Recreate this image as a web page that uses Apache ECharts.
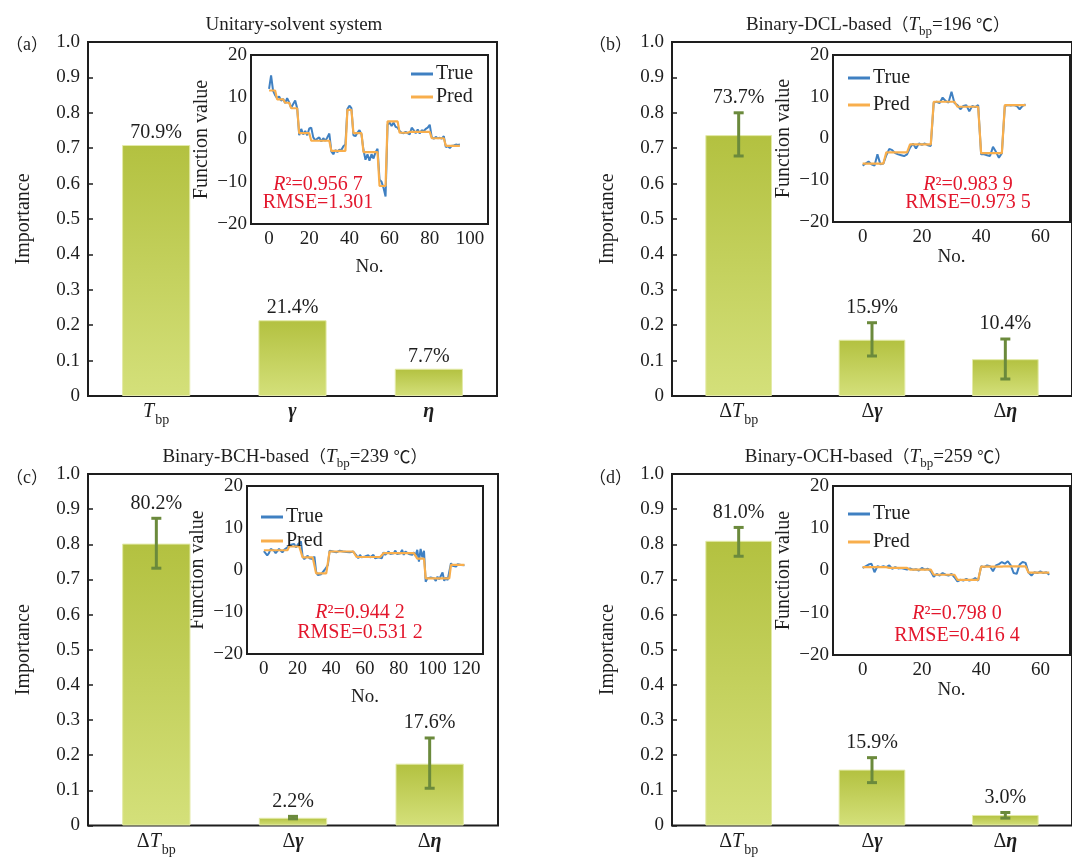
<!DOCTYPE html>
<html>
<head>
<meta charset="utf-8">
<script src="https://cdn.jsdelivr.net/npm/echarts@6/dist/echarts.min.js"></script>
<style>
  html, body { margin: 0; padding: 0; background: #fff; }
  #chart { width: 1072px; height: 857px; }
</style>
</head>
<body>
<div id="chart"></div>
<script>
// ---------- data ----------
const featuresUnitary = ['Tbp', 'γ', 'η'];
const featuresBinary = ['ΔTbp', 'Δγ', 'Δη'];

const importanceA = [0.709, 0.214, 0.077];
const importanceB = [0.737, 0.159, 0.104];
const importanceC = [0.802, 0.022, 0.176];
const importanceD = [0.810, 0.159, 0.030];

const errLowB = [0.678, 0.113, 0.048];
const errHighB = [0.800, 0.207, 0.161];
const errLowC = [0.732, 0.019, 0.106];
const errHighC = [0.874, 0.026, 0.249];
const errLowD = [0.766, 0.122, 0.021];
const errHighD = [0.848, 0.193, 0.037];

const panelTags = ['a', 'b', 'c', 'd'];
const panelNames = ['Unitary-solvent system', 'Binary-DCL-based', 'Binary-BCH-based', 'Binary-OCH-based'];
const boilingPoints = [null, 196, 239, 259];
const r2Values = ['0.956 7', '0.983 9', '0.944 2', '0.798 0'];
const rmseValues = ['1.301', '0.973 5', '0.531 2', '0.416 4'];

const sampleTicksA = [0, 20, 40, 60, 80, 100];
const sampleTicksB = [0, 20, 40, 60];
const sampleTicksC = [0, 20, 40, 60, 80, 100, 120];
const sampleTicksD = [0, 20, 40, 60];

const trueA = [12, 15.2, 11.5, 10.5, 9.8, 10.2, 9.2, 9.6, 8.6, 9.8,
  8.8, 7.5, 8.4, 9.2, 7.4, 1.0, 2.5, 1.2, 2.0, 1.0,
  2.6, 2.8, 0.5, -0.2, 0.2, 0.5, -0.5, 0.3, -0.3, 0.5,
  1.4, -2.8, -3.5, -2.5, -3.0, -2.4, -2.5, -1.6, -1.2, 7.2,
  8.0, 7.4, 1.0, 0.8, 1.6, 2.2, 1.2, -2.5, -4.8, -3.5,
  -5.0, -3.5, -4.5, -3.0, -2.2, -9.5, -10.0, -11.5, -13.5, 3.5,
  4.0, 3.2, 4.0, 3.0, 2.8, 2.0, 1.6, 1.5, 1.8, 1.5,
  1.2, 2.8, 2.2, 1.5, 2.4, 1.4, 2.2, 2.0, 2.5, 2.8,
  3.5, 0.5, 0.2, 0.6, 0.3, 0.4, 0.2, 0.8, -1.8, -1.6,
  -2.0, -1.5, -1.4, -1.2, -1.3, -1.2];
const predA = [11.6, 11.6, 11.6, 11.6, 9.5, 9.5, 9.5, 9.5, 8.7, 8.7,
  8.7, 7.4, 7.4, 7.4, 7.4, 1.5, 1.5, 1.5, 1.5, 1.5,
  1.5, -0.3, -0.3, -0.3, -0.3, -0.3, -0.3, -0.3, -0.3, -0.3,
  -0.3, -2.7, -2.7, -2.7, -2.7, -2.7, -2.7, -2.7, -2.7, 7.0,
  7.0, 7.0, 1.5, 1.5, 1.5, 1.5, 1.5, -3.0, -3.0, -3.0,
  -3.0, -3.0, -3.0, -3.0, -3.0, -11.0, -11.0, -11.0, -11.0, 4.3,
  4.3, 4.3, 4.3, 4.3, 4.3, 1.6, 1.6, 1.6, 1.6, 1.6,
  1.8, 1.8, 1.8, 1.8, 1.8, 1.8, 1.8, 1.8, 1.8, 1.8,
  1.8, 0.3, 0.3, 0.3, 0.3, 0.3, 0.3, 0.3, -1.5, -1.5,
  -1.5, -1.5, -1.5, -1.5, -1.5, -1.5];

const trueB = [-6.5, -6.0, -5.5, -6.2, -6.5, -3.8, -6.2, -6.0, -4.0, -2.5,
  -2.8, -3.5, -3.8, -4.0, -4.2, -3.8, -2.2, -1.2, -2.4, -1.2,
  -1.5, -1.2, -1.6, -1.8, 8.6, 8.8, 8.5, 9.8, 9.0, 8.6,
  11.2, 8.5, 8.0, 7.0, 7.8, 8.0, 6.5, 7.8, 7.5, 8.0,
  -3.8, -3.8, -4.0, -4.2, -2.0, -3.2, -4.6, -3.5, 7.8, 8.0,
  7.9, 8.0, 7.8, 7.0, 7.8, 8.2];
const predB = [-6.0, -6.0, -6.0, -6.0, -6.0, -6.0, -6.0, -6.0, -3.3, -3.3,
  -3.3, -3.3, -3.3, -3.3, -3.3, -3.3, -1.4, -1.4, -1.4, -1.4,
  -1.4, -1.4, -1.4, -1.4, 8.8, 8.8, 8.8, 8.8, 8.8, 8.8,
  8.8, 8.8, 7.6, 7.6, 7.6, 7.6, 7.6, 7.6, 7.6, 7.6,
  -3.5, -3.5, -3.5, -3.5, -3.5, -3.5, -3.5, -3.5, 8.0, 8.0,
  8.0, 8.0, 8.0, 8.0, 8.0, 8.0];

const trueC = [4.5, 4.8, 3.5, 4.0, 5.0, 5.2, 4.6, 4.0, 4.4, 5.0,
  4.6, 4.2, 4.8, 5.0, 5.4, 5.5, 6.0, 5.8, 6.2, 5.4,
  6.0, 5.6, 6.8, 3.2, 2.6, 3.0, 3.4, 2.8, 3.0, 2.6,
  3.2, -0.4, -1.2, -1.6, -1.0, -0.6, 0.0, 0.6, 1.2, 4.6,
  5.0, 4.4, 4.8, 4.2, 4.0, 4.6, 4.2, 4.4, 4.0, 4.3,
  4.6, 4.2, 4.0, 4.4, 4.1, 3.4, 2.8, 3.6, 3.0, 3.4,
  3.2, 2.9, 3.5, 3.0, 3.2, 3.6, 2.8, 2.6, 3.0, 3.2,
  2.8, 4.2, 3.6, 4.0, 4.4, 3.8, 4.2, 4.0, 4.6, 3.8,
  4.2, 4.0, 4.8, 3.6, 4.4, 4.0, 3.8, 4.2, 3.6, 4.2,
  3.4, 4.8, 2.0, 5.0, 3.0, 4.6, -2.8, -2.0, -2.4, -1.8,
  -2.2, -2.0, -2.6, -1.6, -2.2, -2.0, -0.6, -2.6, -1.8, -2.4,
  -2.0, 1.6, 1.0, 1.2, 0.8, 1.4, 1.0, 1.2, 1.0, 1.1];
const predC = [4.7, 4.7, 4.7, 4.7, 4.7, 4.7, 4.7, 4.7, 4.7, 4.7,
  4.7, 4.7, 4.7, 4.7, 4.7, 5.6, 5.6, 5.6, 5.6, 5.6,
  5.6, 5.6, 5.6, 3.0, 3.0, 3.0, 3.0, 3.0, 3.0, 3.0,
  3.0, -0.8, -0.8, -0.8, -0.8, -0.8, -0.8, -0.8, -0.8, 4.4,
  4.4, 4.4, 4.4, 4.4, 4.4, 4.4, 4.4, 4.4, 4.4, 4.4,
  4.4, 4.4, 4.4, 4.4, 4.4, 3.1, 3.1, 3.1, 3.1, 3.1,
  3.1, 3.1, 3.1, 3.1, 3.1, 3.1, 3.1, 3.1, 3.1, 3.1,
  3.1, 4.0, 4.0, 4.0, 4.0, 4.0, 4.0, 4.0, 4.0, 4.0,
  4.0, 4.0, 4.0, 4.0, 4.0, 4.0, 4.0, 4.0, 4.0, 4.0,
  4.0, 2.7, 2.7, 2.7, 2.7, 2.7, -2.0, -2.0, -2.0, -2.0,
  -2.0, -2.0, -2.0, -2.0, -2.0, -2.0, -2.0, -2.0, -2.0, -2.0,
  -2.0, 1.2, 1.2, 1.2, 1.2, 1.2, 1.2, 1.2, 1.2, 1.2];

const trueD = [0.6, 1.0, 1.4, 1.6, -0.4, 1.0, 0.8, 1.0, 0.8, 1.2,
  0.4, 0.8, 0.5, 0.6, 0.4, 0.2, 0.5, 0.2, 0.3, 0.0,
  0.6, 0.2, 0.4, -0.2, -1.5, -0.8, -1.2, -0.6, -1.0, -1.2,
  -0.8, -1.6, -2.6, -2.2, -2.4, -2.0, -2.4, -2.2, -1.8, -2.4,
  1.0, 0.8, 1.2, 1.0, -0.2, 1.2, 1.5, 2.0, 1.6, 2.2,
  1.2, -0.6, -0.8, 1.4, 2.0, 1.8, -0.5, -1.2, -0.4, -0.6,
  -0.2, -0.6, -0.4, -1.0];
const predD = [0.8, 0.8, 0.8, 0.8, 0.8, 0.8, 0.8, 0.8, 0.8, 0.6,
  0.6, 0.6, 0.6, 0.6, 0.6, 0.6, 0.2, 0.2, 0.2, 0.2,
  0.2, 0.2, 0.2, 0.2, -1.0, -1.0, -1.0, -1.0, -1.0, -1.0,
  -1.0, -1.0, -2.2, -2.2, -2.2, -2.2, -2.2, -2.2, -2.2, -2.2,
  0.9, 0.9, 0.9, 0.9, 0.9, 0.9, 0.9, 0.9, 1.0, 1.0,
  1.0, 1.0, 1.0, 1.0, 1.0, 1.0, -0.5, -0.5, -0.5, -0.5,
  -0.5, -0.5, -0.5, -0.5];

// ---------- styles ----------
const SERIF = "'Liberation Serif', 'DejaVu Serif', 'Times New Roman', serif";
const CJK = "'Noto Sans CJK SC', 'Liberation Serif', serif";
const INK = '#1e1e1e';
const BLUE = '#3f80c2';
const ORANGE = '#f8ae4c';
const RED = '#e3172d';
const ERR = '#6b8a3c';
const BAR_FILL = new echarts.graphic.LinearGradient(0, 0, 0, 1, [
  { offset: 0, color: '#b3c140' },
  { offset: 1, color: '#d4e07a' }
]);

const symbolRich = {
  it: { fontFamily: SERIF, fontStyle: 'italic', fontSize: 20, color: INK, lineHeight: 24 },
  up: { fontFamily: SERIF, fontSize: 20, color: INK, lineHeight: 24 },
  gk: { fontFamily: SERIF, fontStyle: 'italic', fontWeight: 'bold', fontSize: 20, color: INK, lineHeight: 24 },
  sub: { fontFamily: SERIF, fontSize: 14, color: INK, lineHeight: 14, padding: [17, 0, 0, 1] }
};
function featureLabel(name) {
  const head = name.startsWith('Δ') ? '{up|Δ}' : '';
  const rest = name.replace('Δ', '');
  if (rest === 'Tbp') return head + '{it|T}{sub|bp}';
  return head + '{gk|' + rest + '}';
}
const pct = v => (v * 100).toFixed(1) + '%';
const minus = v => String(v).replace('-', '−');

// ---------- layout ----------
const mainBoxes = [
  { left: 88, top: 42, width: 409, height: 354 },
  { left: 672, top: 42, width: 409, height: 354 },
  { left: 88, top: 474, width: 410, height: 355 },
  { left: 672, top: 474, width: 409, height: 355 }
];
const insetBoxes = [
  { left: 251, top: 55, width: 237, height: 169 },
  { left: 833, top: 55, width: 237, height: 167 },
  { left: 247, top: 486, width: 236, height: 168 },
  { left: 833, top: 486, width: 237, height: 169 }
];
const insetRanges = [[-9, 109], [-10, 70], [-10, 130], [-10, 70]];
const insetTicks = [sampleTicksA, sampleTicksB, sampleTicksC, sampleTicksD];
const insetNameGaps = [34, 22, 34, 24];
const legendPos = [
  { left: 406, top: 59, itemGap: 3 },
  { left: 843, top: 63, itemGap: 7 },
  { left: 256, top: 502, itemGap: 4 },
  { left: 843, top: 499, itemGap: 8 }
];
const statPos = [[318, 185, 203], [968, 185, 203], [360, 613, 633], [957, 614, 636]];
const titlePos = [[294, 25], [878, 25], [295, 457], [878, 457]];
const tagPos = [[6, 45], [589, 45], [6, 478], [589, 478]];

const importance = [importanceA, importanceB, importanceC, importanceD];
const errLow = [null, errLowB, errLowC, errLowD];
const errHigh = [null, errHighB, errHighC, errHighD];
const trueSeries = [trueA, trueB, trueC, trueD];
const predSeries = [predA, predB, predC, predD];

const grid = [], xAxis = [], yAxis = [], series = [], legend = [], graphic = [];

for (let p = 0; p < 4; p++) {
  grid.push(Object.assign({ show: true, borderColor: INK, borderWidth: 2, backgroundColor: 'transparent' }, mainBoxes[p]));
  xAxis.push({
    type: 'category', gridIndex: p,
    data: p === 0 ? featuresUnitary : featuresBinary,
    axisLine: { show: false }, axisTick: { show: false },
    axisLabel: { margin: 4, formatter: featureLabel, rich: symbolRich }
  });
  yAxis.push({
    type: 'value', gridIndex: p, min: 0, max: 1, interval: 0.1,
    name: 'Importance', nameLocation: 'middle', nameGap: 54,
    nameTextStyle: { fontFamily: SERIF, fontSize: 20, color: INK },
    axisLine: { show: false },
    axisTick: { show: true, inside: true, length: 5, lineStyle: { color: INK, width: 1.5 } },
    splitLine: { show: false },
    axisLabel: { margin: 8, fontFamily: SERIF, fontSize: 19, color: INK,
      formatter: v => (v === 0 ? '0' : v.toFixed(1)) }
  });
}
for (let p = 0; p < 4; p++) {
  const g = 4 + p;
  grid.push(Object.assign({ show: true, borderColor: INK, borderWidth: 2, backgroundColor: '#fff', z: 3 }, insetBoxes[p]));
  xAxis.push({
    type: 'value', gridIndex: g, min: insetRanges[p][0], max: insetRanges[p][1],
    name: 'No.', nameLocation: 'middle', nameGap: insetNameGaps[p],
    nameTextStyle: { fontFamily: SERIF, fontSize: 19, color: INK, verticalAlign: 'top' },
    axisLine: { show: false },
    axisTick: { show: true, inside: true, length: 5, customValues: insetTicks[p], lineStyle: { color: INK, width: 1.5 } },
    axisLabel: { margin: 6, fontFamily: SERIF, fontSize: 19, color: INK, customValues: insetTicks[p] },
    splitLine: { show: false }
  });
  yAxis.push({
    type: 'value', gridIndex: g, min: -20, max: 20, interval: 10,
    name: 'Function value', nameLocation: 'middle', nameGap: 39,
    nameTextStyle: { fontFamily: SERIF, fontSize: 20, color: INK },
    axisLine: { show: false },
    axisTick: { show: true, inside: true, length: 5, lineStyle: { color: INK, width: 1.5 } },
    axisLabel: { margin: 4, fontFamily: SERIF, fontSize: 19, color: INK, formatter: minus },
    splitLine: { show: false }
  });
}

for (let p = 0; p < 4; p++) {
  series.push({
    type: 'bar', xAxisIndex: p, yAxisIndex: p, barWidth: '50%',
    data: importance[p],
    itemStyle: { color: BAR_FILL, borderColor: '#e3eaa8', borderWidth: 1 },
    label: { show: p === 0, position: 'top', distance: 2, formatter: d => pct(d.value),
      fontFamily: SERIF, fontSize: 20, color: INK }
  });
  if (p > 0) {
    series.push({
      type: 'custom', xAxisIndex: p, yAxisIndex: p, clip: false, z: 4,
      data: importance[p].map((v, i) => [i, errLow[p][i], errHigh[p][i], v]),
      encode: { x: 0, y: [1, 2] },
      renderItem: (params, api) => {
        const i = api.value(0);
        const lo = api.coord([i, api.value(1)]);
        const hi = api.coord([i, api.value(2)]);
        const cap = 5;
        const st = { stroke: ERR, lineWidth: 3 };
        return { type: 'group', children: [
          { type: 'line', shape: { x1: hi[0], y1: hi[1], x2: lo[0], y2: lo[1] }, style: st },
          { type: 'line', shape: { x1: hi[0] - cap, y1: hi[1], x2: hi[0] + cap, y2: hi[1] }, style: st },
          { type: 'line', shape: { x1: lo[0] - cap, y1: lo[1], x2: lo[0] + cap, y2: lo[1] }, style: st },
          { type: 'text', x: hi[0], y: hi[1] - 5,
            style: { text: pct(api.value(3)), align: 'center', verticalAlign: 'bottom',
              font: '20px ' + SERIF, fill: INK } }
        ] };
      }
    });
  }
  const g = 4 + p;
  series.push({
    name: 'True', type: 'line', xAxisIndex: g, yAxisIndex: g, symbol: 'none', z: 5,
    data: trueSeries[p].map((v, i) => [i, v]),
    lineStyle: { color: BLUE, width: 2 }, itemStyle: { color: BLUE }
  });
  series.push({
    name: 'Pred', type: 'line', xAxisIndex: g, yAxisIndex: g, symbol: 'none', z: 6,
    data: predSeries[p].map((v, i) => [i, v]),
    lineStyle: { color: ORANGE, width: 2.2 }, itemStyle: { color: ORANGE }
  });
  legend.push({
    orient: 'vertical', left: legendPos[p].left, top: legendPos[p].top,
    itemGap: legendPos[p].itemGap, itemWidth: 22, itemHeight: 3, icon: 'rect',
    data: ['True', 'Pred'], selectedMode: false, z: 10,
    textStyle: { fontFamily: SERIF, fontSize: 20, color: INK, lineHeight: 20, padding: [0, 0, 0, -2] }
  });

  // panel title
  const titleText = p === 0
    ? panelNames[p]
    : panelNames[p] + '{cj|（}{it|T}{sub|bp}=' + boilingPoints[p] + ' {cj|℃）}';
  graphic.push({
    type: 'text', x: titlePos[p][0], y: titlePos[p][1], z: 20,
    style: { text: titleText, align: 'center', verticalAlign: 'middle',
      font: '19px ' + SERIF, fill: INK,
      rich: {
        cj: { fontFamily: CJK, fontSize: 17, fill: INK },
        it: { fontFamily: SERIF, fontStyle: 'italic', fontSize: 19, fill: INK, lineHeight: 22 },
        sub: { fontFamily: SERIF, fontSize: 13, fill: INK, lineHeight: 13, padding: [14, 0, 0, 0] }
      } }
  });
  graphic.push({
    type: 'text', x: tagPos[p][0], y: tagPos[p][1], z: 20,
    style: { text: '{cj|（}' + panelTags[p] + '{cj|）}', verticalAlign: 'middle',
      font: '18px ' + SERIF, fill: INK,
      rich: { cj: { fontFamily: CJK, fontSize: 17, fill: INK } } }
  });
  graphic.push({
    type: 'text', x: statPos[p][0], y: statPos[p][1], z: 20,
    style: { text: '{i|R}²=' + r2Values[p], align: 'center', verticalAlign: 'middle',
      font: '20px ' + SERIF, fill: RED,
      rich: { i: { fontFamily: SERIF, fontStyle: 'italic', fontSize: 20, fill: RED } } }
  });
  graphic.push({
    type: 'text', x: statPos[p][0], y: statPos[p][2], z: 20,
    style: { text: 'RMSE=' + rmseValues[p], align: 'center', verticalAlign: 'middle',
      font: '20px ' + SERIF, fill: RED }
  });
}

const chart = echarts.init(document.getElementById('chart'), null, { renderer: 'canvas' });
chart.setOption({
  backgroundColor: '#fff',
  animation: false,
  grid, xAxis, yAxis, series, legend, graphic
});
</script>
</body>
</html>
